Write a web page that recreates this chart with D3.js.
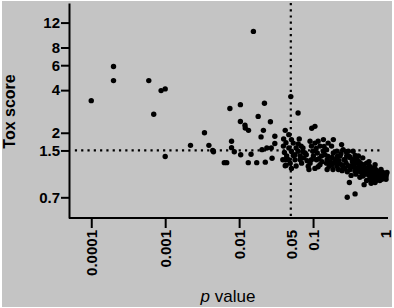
<!DOCTYPE html>
<html>
<head>
<meta charset="utf-8">
<script src="https://cdn.jsdelivr.net/npm/d3@7"></script>
<style>
  body { margin: 0; background: #fff; }
  svg { display: block; font-family: 'Liberation Sans', Arial, sans-serif; }
  .axis path, .axis line { stroke: #000; stroke-width: 2; }
  .axis text { font-size: 15px; font-weight: bold; fill: #000; }
</style>
</head>
<body>
<svg id="chart" width="394" height="308"></svg>
<script>
const yTicks = [0.7, 1.5, 2, 4, 6, 8, 12];
const xTicks = [0.0001, 0.001, 0.01, 0.05, 0.1, 1];
const xTickLabels = ['0.0001', '0.001', '0.01', '0.05', '0.1', '1'];
const xTicksWithoutMark = [0.05, 1];
const pThreshold = 0.05;
const toxThreshold = 1.5;
const toxLineExtent = [6e-5, 0.86];

// [p value, tox score] — the spread-out points
const scatteredPoints = [
  [1.0e-4, 3.37], [2.0e-4, 5.87], [2.0e-4, 4.67], [6.0e-4, 4.67], [7.0e-4, 2.70],
  [8.8e-4, 3.97], [1.0e-3, 4.08], [1.0e-3, 1.36], [2.2e-3, 1.63], [3.4e-3, 2.0],
  [3.9e-3, 1.63], [4.4e-3, 1.50], [4.5e-3, 1.47], [6.3e-3, 1.23], [6.8e-3, 1.23],
  [7.5e-3, 2.97], [7.9e-3, 1.74], [7.9e-3, 1.57], [8.6e-3, 1.47], [0.0104, 3.16],
  [0.0104, 2.40], [0.0105, 1.40], [0.0120, 2.26], [0.0121, 2.16], [0.0134, 2.08],
  [0.0133, 1.23], [0.0145, 1.41], [0.0156, 10.4], [0.0173, 1.23], [0.0181, 2.61],
  [0.0220, 3.23], [0.0265, 2.39], [0.0213, 2.08], [0.0198, 1.87], [0.0304, 1.89],
  [0.0304, 1.68], [0.0237, 1.56], [0.0204, 1.52], [0.0272, 1.56], [0.0279, 1.32],
  [0.0226, 1.24], [0.0397, 1.61], [0.039, 1.29], [0.0432, 1.18], [0.041, 1.45],
  [0.050, 3.6], [0.0627, 2.76], [0.096, 2.15], [0.106, 2.22], [0.040, 1.81],
  [0.047, 1.94], [0.042, 2.08],
];

// [p value, tox score] — the dense band from p = 0.04 to 1
const clusterPoints = [
  [0.054, 1.69], [0.047, 1.56], [0.051, 1.48], [0.044, 1.37], [0.042, 1.29],
  [0.049, 1.22], [0.042, 1.17], [0.051, 1.12], [0.057, 1.40], [0.059, 1.56],
  [0.063, 1.67], [0.069, 1.61], [0.063, 1.48], [0.067, 1.37], [0.075, 1.33],
  [0.081, 1.40], [0.091, 1.22], [0.086, 1.16], [0.095, 1.29], [0.078, 1.44],
  [0.095, 1.61], [0.091, 1.74], [0.099, 1.48], [0.070, 1.22], [0.073, 1.56],
  [0.106, 1.69], [0.117, 1.74], [0.124, 1.61], [0.114, 1.44], [0.130, 1.37],
  [0.145, 1.40], [0.152, 1.52], [0.160, 1.69], [0.138, 1.79], [0.111, 1.29],
  [0.124, 1.19], [0.152, 1.22], [0.170, 1.25], [0.106, 1.12], [0.138, 1.48],
  [0.178, 1.61], [0.188, 1.44], [0.210, 1.48], [0.232, 1.37], [0.255, 1.52],
  [0.271, 1.29], [0.243, 1.19], [0.198, 1.29], [0.210, 1.16], [0.220, 1.10],
  [0.285, 1.37], [0.280, 1.22], [0.188, 1.79], [0.243, 1.65], [0.30, 1.48],
  [0.318, 1.33], [0.348, 1.29], [0.39, 1.22], [0.432, 1.16], [0.48, 1.10],
  [0.335, 1.16], [0.37, 1.07], [0.45, 1.05], [0.41, 1.37], [0.47, 1.33],
  [0.31, 0.89], [0.29, 0.70], [0.37, 0.74], [0.348, 1.48], [0.27, 1.12],
  [0.53, 1.22], [0.58, 1.16], [0.64, 1.10], [0.71, 1.05], [0.80, 1.02],
  [0.88, 1.05], [0.98, 1.02], [0.94, 0.97], [0.85, 0.94], [0.71, 0.92],
  [0.64, 0.94], [0.58, 0.99], [0.53, 0.92], [0.49, 0.86], [0.56, 1.07],
  [0.69, 1.19], [0.057, 1.29], [0.059, 1.165], [0.073, 1.47], [0.083, 1.27],
  [0.101, 1.37], [0.110, 1.55], [0.120, 1.31], [0.132, 1.25], [0.141, 1.60],
  [0.160, 1.36], [0.165, 1.16], [0.181, 1.34], [0.192, 1.23], [0.213, 1.36],
  [0.224, 1.27], [0.238, 1.42], [0.253, 1.15], [0.263, 1.29], [0.28, 1.47],
  [0.30, 1.17], [0.31, 1.36], [0.318, 1.10], [0.34, 1.25], [0.358, 1.15],
  [0.37, 1.38], [0.38, 1.02], [0.394, 1.29], [0.41, 1.14], [0.42, 1.25],
  [0.445, 1.21], [0.46, 1.10], [0.49, 1.19], [0.505, 1.02], [0.54, 1.12],
  [0.555, 1.02], [0.57, 1.25], [0.61, 1.05], [0.627, 1.13], [0.667, 1.0],
  [0.70, 1.10], [0.755, 0.97], [0.78, 1.07], [0.80, 0.92], [0.855, 1.0],
  [0.91, 0.95], [0.97, 0.98], [1.0, 1.05], [0.69, 0.89], [0.61, 0.88],
  [0.43, 0.97], [0.186, 1.10], [0.155, 1.10], [0.117, 1.15], [0.088, 1.10],
  [0.054, 1.38], [0.065, 1.81], [0.051, 1.79], [0.043, 1.70], [0.047, 1.29],
  [0.22, 1.23], [0.247, 1.08], [0.29, 1.06], [0.327, 1.0], [0.348, 1.19],
  [0.38, 1.10], [0.42, 1.07], [0.474, 0.99], [0.52, 1.07], [0.59, 0.93],
  [0.64, 1.04], [0.73, 0.98], [0.83, 1.10], [0.91, 1.02], [0.97, 0.94],
  [0.181, 1.19], [0.155, 1.29], [0.067, 1.29],
];

const margin = { top: 3, right: 7, bottom: 90, left: 69 };
const width = 394 - margin.left - margin.right;
const height = 308 - margin.top - margin.bottom;

const svg = d3.select('#chart');

// grey backdrop inside a thin white border
svg.append('rect')
  .attr('x', 2).attr('y', 1)
  .attr('width', 390).attr('height', 306)
  .attr('fill', '#c4c4c4');

const viz = svg.append('g')
  .attr('transform', `translate(${margin.left},${margin.top})`);

const x = d3.scaleLog().domain([5e-5, 1]).range([0, width]);
const y = d3.scaleLog().domain([0.5, 16.5]).range([height, 0]);

// threshold lines
viz.append('line')
  .attr('x1', x(toxLineExtent[0])).attr('x2', x(toxLineExtent[1]))
  .attr('y1', y(toxThreshold)).attr('y2', y(toxThreshold))
  .attr('stroke', '#000').attr('stroke-width', 2.2)
  .attr('stroke-dasharray', '2.2 4.1');

viz.append('line')
  .attr('x1', x(pThreshold)).attr('x2', x(pThreshold))
  .attr('y1', 0).attr('y2', height + 2)
  .attr('stroke', '#000').attr('stroke-width', 2.2)
  .attr('stroke-dasharray', '2.2 4.0');

// points
viz.append('g')
  .selectAll('circle')
  .data(scatteredPoints.concat(clusterPoints))
  .join('circle')
  .attr('cx', (d) => x(d[0]))
  .attr('cy', (d) => y(d[1]))
  .attr('r', 2.7)
  .attr('fill', '#000');

// axes
const yAxis = d3.axisLeft(y)
  .tickValues(yTicks)
  .tickFormat((d) => d)
  .tickSize(8)
  .tickSizeOuter(0)
  .tickPadding(1);

viz.append('g')
  .attr('class', 'y axis')
  .call(yAxis);

const xAxis = d3.axisBottom(x)
  .tickValues(xTicks)
  .tickFormat((d, i) => xTickLabels[i])
  .tickSize(10)
  .tickSizeOuter(0);

const xg = viz.append('g')
  .attr('class', 'x axis')
  .attr('transform', `translate(0,${height})`)
  .call(xAxis);

xg.select('.domain').attr('d', `M0,0H${width + 1}`);

xg.selectAll('.tick')
  .filter((d) => xTicksWithoutMark.includes(d))
  .select('line')
  .remove();

xg.selectAll('.tick text')
  .attr('transform', 'rotate(-90)')
  .attr('x', -12)
  .attr('y', (d) => (d === 1 ? -2 : 0))
  .attr('dy', '0.36em')
  .style('text-anchor', 'end');

// axis titles
svg.append('text')
  .attr('transform', `translate(15,${margin.top + height / 2 + 1}) rotate(-90)`)
  .attr('text-anchor', 'middle')
  .style('font-size', '16px')
  .style('font-weight', 'bold')
  .text('Tox score');

const xTitle = svg.append('text')
  .attr('x', margin.left + width / 2)
  .attr('y', 302)
  .attr('text-anchor', 'middle')
  .style('font-size', '17px');
xTitle.append('tspan').style('font-style', 'italic').text('p');
xTitle.append('tspan').text(' value');
</script>
</body>
</html>
